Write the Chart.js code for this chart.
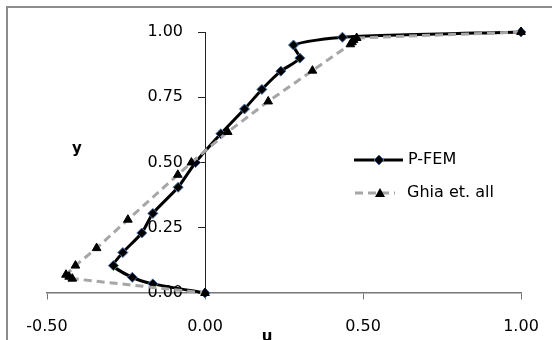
<!DOCTYPE html>
<html>
<head>
<meta charset="utf-8">
<script src="https://cdn.jsdelivr.net/npm/chart.js@4"></script>
<style>
  html, body { margin: 0; padding: 0; background: #fff; }
  #wrap { width: 552px; height: 340px; position: relative; }
</style>
</head>
<body>
<div id="wrap"><canvas id="chart" width="552" height="340"></canvas></div>
<script>
// P-FEM results
const pfemU = [0.00, -0.165, -0.23, -0.29, -0.26, -0.20, -0.165, -0.085, -0.03, 0.05, 0.125, 0.18, 0.24, 0.30, 0.28, 0.435, 1.00];
const pfemY = [0.00, 0.035, 0.06, 0.105, 0.155, 0.23, 0.305, 0.405, 0.50, 0.61, 0.705, 0.78, 0.85, 0.90, 0.95, 0.98, 1.00];

// Ghia et al. reference values
const ghiaU = [1.00, 0.48, 0.47, 0.465, 0.46, 0.34, 0.20, 0.072, -0.043, -0.086, -0.244, -0.343, -0.41, -0.44, -0.43, -0.42, 0.00];
const ghiaY = [1.00, 0.977, 0.969, 0.961, 0.953, 0.852, 0.734, 0.617, 0.50, 0.453, 0.281, 0.172, 0.105, 0.07, 0.0625, 0.055, 0.00];

const xTicks = [-0.5, 0, 0.5, 1.0];
const yTicks = [0, 0.25, 0.5, 0.75, 1.0];

const font = 'DejaVu Sans';

// outer frame, y tick labels, axis titles and legend
const decorations = {
  id: 'decorations',
  beforeDraw(chart) {
    const ctx = chart.ctx;
    ctx.save();
    ctx.strokeStyle = '#8c8c8c';
    ctx.lineWidth = 2;
    ctx.strokeRect(7, 7, 600, 600);
    ctx.restore();
  },
  beforeDatasetsDraw(chart) {
    // y tick labels sit left of the axis at u = 0, under the curves
    const ctx = chart.ctx;
    const xs = chart.scales.x, ys = chart.scales.y;
    ctx.save();
    ctx.fillStyle = '#000';
    ctx.font = '16px ' + font;
    ctx.textAlign = 'right';
    ctx.textBaseline = 'middle';
    const axisX = xs.getPixelForValue(0);
    yTicks.forEach((v) => ctx.fillText(v.toFixed(2), axisX - 22, ys.getPixelForValue(v)));
    ctx.restore();
  },
  afterDraw(chart) {
    const ctx = chart.ctx;
    ctx.save();
    ctx.fillStyle = '#000';
    ctx.textBaseline = 'middle';
    ctx.font = 'bold 15px ' + font;
    ctx.textAlign = 'center';
    ctx.fillText('y', 77, 149);
    ctx.fillText('u', 267, 337);

    // legend
    ctx.font = '16px ' + font;
    ctx.textAlign = 'left';
    ctx.strokeStyle = '#000';
    ctx.lineWidth = 3;
    ctx.setLineDash([]);
    ctx.beginPath(); ctx.moveTo(354, 160); ctx.lineTo(403, 160); ctx.stroke();
    ctx.beginPath();
    ctx.moveTo(379, 155); ctx.lineTo(384, 160); ctx.lineTo(379, 165); ctx.lineTo(374, 160); ctx.closePath();
    ctx.fillStyle = '#000'; ctx.fill();
    ctx.lineWidth = 1; ctx.strokeStyle = '#4a6fa5'; ctx.stroke();
    ctx.fillStyle = '#000';
    ctx.fillText('P-FEM', 408, 160);

    ctx.strokeStyle = '#a6a6a6';
    ctx.lineWidth = 3;
    ctx.setLineDash([8, 5]);
    ctx.beginPath(); ctx.moveTo(355, 193); ctx.lineTo(395, 193); ctx.stroke();
    ctx.setLineDash([]);
    ctx.beginPath();
    ctx.moveTo(380, 188); ctx.lineTo(385, 197); ctx.lineTo(375, 197); ctx.closePath();
    ctx.fillStyle = '#000'; ctx.fill();
    ctx.fillText('Ghia et. all', 407, 193);
    ctx.restore();
  }
};

new Chart(document.getElementById('chart'), {
  type: 'scatter',
  data: {
    datasets: [
      {
        label: 'P-FEM',
        data: pfemU.map((u, i) => ({ x: u, y: pfemY[i] })),
        showLine: true,
        borderColor: '#000',
        borderWidth: 3,
        tension: 0.2,
        pointStyle: 'rectRot',
        pointRadius: 5,
        pointBackgroundColor: '#000',
        pointBorderColor: '#4a6fa5',
        pointBorderWidth: 1,
        clip: false,
        order: 1,
      },
      {
        label: 'Ghia et. all',
        data: ghiaU.map((u, i) => ({ x: u, y: ghiaY[i] })),
        showLine: true,
        borderColor: '#a6a6a6',
        borderWidth: 3,
        borderDash: [8, 5],
        tension: 0,
        pointStyle: 'triangle',
        pointRadius: 5,
        pointBackgroundColor: '#000',
        pointBorderColor: '#000',
        pointBorderWidth: 1,
        clip: false,
        order: 0,
      },
    ],
  },
  options: {
    responsive: false,
    animation: false,
    layout: { padding: { left: 47, top: 32, right: 31, bottom: 47 } },
    plugins: { legend: { display: false }, tooltip: { enabled: false } },
    scales: {
      x: {
        type: 'linear',
        position: { y: 0 },
        min: -0.5,
        max: 1.0,
        afterBuildTicks: (axis) => { axis.ticks = xTicks.map((v) => ({ value: v })); },
        afterFit: (axis) => { axis.paddingLeft = 0; axis.paddingRight = 0; },
        ticks: {
          callback: (v) => v.toFixed(2),
          color: '#000',
          padding: 18,
          maxRotation: 0,
          font: { family: font, size: 16 },
        },
        grid: { display: true, drawOnChartArea: false, drawTicks: true, tickLength: 6, color: '#777' },
        border: { display: true, color: '#777', width: 1.5 },
      },
      y: {
        type: 'linear',
        position: { x: 0 },
        min: 0,
        max: 1.0,
        afterBuildTicks: (axis) => { axis.ticks = yTicks.map((v) => ({ value: v })); },
        ticks: { display: false },
        grid: { display: true, drawOnChartArea: false, drawTicks: true, tickLength: 7, color: '#222' },
        border: { display: true, color: '#222', width: 1 },
      },
    },
  },
  plugins: [decorations],
});
</script>
</body>
</html>
